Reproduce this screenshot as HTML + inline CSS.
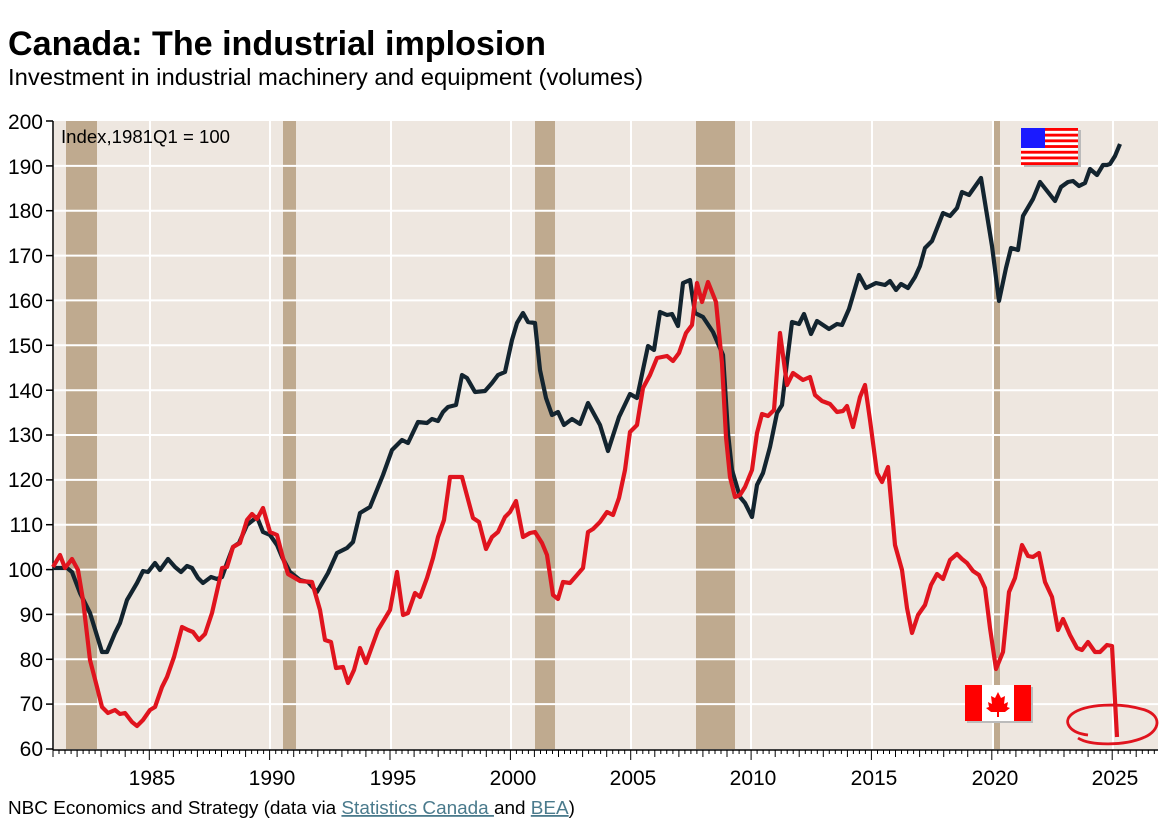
<!DOCTYPE html>
<html><head><meta charset="utf-8"><style>
body{margin:0;background:#fff;width:1162px;height:831px;overflow:hidden;font-family:"Liberation Sans",Arial,sans-serif}
</style></head><body>
<svg width="1162" height="831" viewBox="0 0 1162 831" xmlns="http://www.w3.org/2000/svg" font-family="Liberation Sans, Arial, sans-serif">
<text x="8" y="55" font-size="34" font-weight="bold" fill="#000" textLength="538" lengthAdjust="spacingAndGlyphs">Canada: The industrial implosion</text>
<text x="8" y="85" font-size="23.5" fill="#000" textLength="635" lengthAdjust="spacingAndGlyphs">Investment in industrial machinery and equipment (volumes)</text>
<rect x="54" y="121" width="1104" height="628" fill="#EEE7E0"/>
<g fill="#BFAA8F">
<rect x="66" y="121" width="31" height="628"/>
<rect x="283" y="121" width="13" height="628"/>
<rect x="535" y="121" width="20" height="628"/>
<rect x="696" y="121" width="39" height="628"/>
<rect x="993" y="121" width="7" height="628"/>
</g>
<g stroke="#fff" stroke-width="2">
<line x1="54" x2="1158" y1="165.9" y2="165.9"/><line x1="54" x2="1158" y1="210.7" y2="210.7"/>
<line x1="54" x2="1158" y1="255.6" y2="255.6"/><line x1="54" x2="1158" y1="300.4" y2="300.4"/>
<line x1="54" x2="1158" y1="345.3" y2="345.3"/><line x1="54" x2="1158" y1="390.2" y2="390.2"/>
<line x1="54" x2="1158" y1="435" y2="435"/><line x1="54" x2="1158" y1="479.9" y2="479.9"/>
<line x1="54" x2="1158" y1="524.7" y2="524.7"/><line x1="54" x2="1158" y1="569.6" y2="569.6"/>
<line x1="54" x2="1158" y1="614.4" y2="614.4"/><line x1="54" x2="1158" y1="659.3" y2="659.3"/>
<line x1="54" x2="1158" y1="704.1" y2="704.1"/>
<line x1="150" x2="150" y1="121" y2="749"/><line x1="270" x2="270" y1="121" y2="749"/>
<line x1="391" x2="391" y1="121" y2="749"/><line x1="511" x2="511" y1="121" y2="749"/>
<line x1="631" x2="631" y1="121" y2="749"/><line x1="751" x2="751" y1="121" y2="749"/>
<line x1="872" x2="872" y1="121" y2="749"/><line x1="993" x2="993" y1="121" y2="749"/>
<line x1="1113" x2="1113" y1="121" y2="749"/>
</g>
<g font-size="21" fill="#000" text-anchor="end">
<text x="43" y="129">200</text><text x="43" y="174">190</text><text x="43" y="218">180</text>
<text x="43" y="263">170</text><text x="43" y="308">160</text><text x="43" y="353">150</text>
<text x="43" y="398">140</text><text x="43" y="442">130</text><text x="43" y="487">120</text>
<text x="43" y="532">110</text><text x="43" y="577">100</text><text x="43" y="622">90</text>
<text x="43" y="667">80</text><text x="43" y="711">70</text><text x="43" y="756">60</text>
</g>
<g stroke="#000" stroke-width="1.5">
<line x1="53" x2="53" y1="121" y2="750"/>
<line x1="53" x2="1158" y1="750" y2="750"/>
<line x1="46" x2="53" y1="121" y2="121"/><line x1="46" x2="53" y1="165.9" y2="165.9"/><line x1="46" x2="53" y1="210.7" y2="210.7"/><line x1="46" x2="53" y1="255.6" y2="255.6"/><line x1="46" x2="53" y1="300.4" y2="300.4"/><line x1="46" x2="53" y1="345.3" y2="345.3"/><line x1="46" x2="53" y1="390.2" y2="390.2"/><line x1="46" x2="53" y1="435" y2="435"/><line x1="46" x2="53" y1="479.9" y2="479.9"/><line x1="46" x2="53" y1="524.7" y2="524.7"/><line x1="46" x2="53" y1="569.6" y2="569.6"/><line x1="46" x2="53" y1="614.4" y2="614.4"/><line x1="46" x2="53" y1="659.3" y2="659.3"/><line x1="46" x2="53" y1="704.1" y2="704.1"/><line x1="46" x2="53" y1="749" y2="749"/>
</g>
<g id="ticks" stroke="#000" stroke-width="1"></g>
<g font-size="21" fill="#000" text-anchor="middle">
<text x="152" y="785">1985</text><text x="272" y="785">1990</text><text x="393" y="785">1995</text>
<text x="513" y="785">2000</text><text x="633" y="785">2005</text><text x="753" y="785">2010</text>
<text x="874" y="785">2015</text><text x="995" y="785">2020</text><text x="1115" y="785">2025</text>
</g>
<text x="61" y="143" font-size="18" fill="#000" textLength="169" lengthAdjust="spacingAndGlyphs">Index,1981Q1 = 100</text>
<polyline fill="none" stroke="#13242F" stroke-width="4.2" stroke-linejoin="round" points="53,568 67,568 72,572 80,593 90,613 102,652 107,652 115,633 120,623 127,600 137,583 143,571 148,572 155,563 160,570 168,559 175,567 181,572 187,566 192,568 198,578 203,583 211,577 217,579 222,577 227,563 233,547 239,543 247,525 257,517 263,532 270,535 277,545 282,557 290,572 300,580 308,582 317,592 328,573 337,553 347,548 353,542 360,513 370,507 383,475 392,450 402,440 408,443 418,422 427,423 432,419 438,421 443,412 448,407 456,405 462,375 467,378 475,392 485,391 492,383 498,375 505,372 512,340 517,323 523,313 528,322 535,323 540,370 546,398 552,415 558,412 564,425 572,419 580,424 588,403 600,425 608,451 619,417 630,394 637,398 648,346 654,350 660,312 667,315 672,314 678,326 683,283 690,280 695,313 703,317 713,332 723,355 728,433 732,470 740,497 745,503 752,517 757,485 763,473 770,447 777,413 782,405 787,362 792,322 799,324 804,314 811,334 817,321 829,329 837,324 842,325 849,309 859,275 866,288 876,283 885,285 890,281 896,290 901,284 908,288 915,277 920,266 925,248 932,241 943,213 950,216 957,208 962,192 969,195 981,178 992,246 999,301 1006,268 1011,248 1018,250 1023,216 1033,199 1040,182 1055,201 1061,187 1068,182 1073,181 1079,186 1085,183 1090,169 1097,175 1103,165 1107,165 1110,164 1115,156 1120,144"/>
<polyline fill="none" stroke="#E0141E" stroke-width="4.2" stroke-linejoin="round" points="53,567 60,555 65,568 72,559 78,570 83,600 90,660 97,687 102,707 108,713 115,710 120,714 125,713 132,722 137,726 143,720 150,710 155,707 162,687 167,677 174,657 182,627 188,630 193,632 199,640 205,634 212,613 220,578 222,568 227,567 233,547 240,543 247,520 252,514 257,519 263,508 270,532 277,535 283,558 288,574 300,581 312,582 320,610 325,640 331,642 336,668 343,667 348,683 354,670 360,648 366,663 378,630 390,610 397,572 403,615 408,613 415,593 420,597 427,578 433,558 438,537 444,520 450,477 457,477 462,477 473,518 479,522 486,549 492,537 498,532 505,517 510,512 516,501 523,537 530,533 535,532 542,543 547,555 553,595 558,599 563,582 570,583 577,575 583,568 588,532 593,529 600,522 607,512 613,515 619,498 625,470 630,432 637,425 643,388 650,375 657,358 667,356 673,361 679,353 686,333 692,325 697,283 702,302 708,282 716,302 722,363 726,437 730,477 735,497 740,495 745,487 752,470 757,433 762,414 768,416 774,410 780,333 787,385 793,373 803,380 810,377 815,395 822,401 830,404 837,412 843,411 847,406 853,427 860,397 865,385 870,420 877,473 882,482 888,467 895,545 902,570 907,608 912,633 918,615 925,605 931,585 937,574 943,579 950,560 957,554 962,559 967,563 973,571 979,575 985,588 990,628 996,669 1003,652 1009,592 1015,578 1022,545 1028,556 1033,557 1039,553 1045,582 1052,597 1058,630 1063,619 1070,635 1077,648 1082,650 1088,642 1095,652 1100,652 1107,645 1112,646 1117,737"/>
<path d="M1088,735 C1070,733 1062,722 1072,714 C1085,704 1120,702 1145,710 C1162,716 1160,730 1145,737 C1125,746 1090,746 1078,738" fill="none" stroke="#E0141E" stroke-width="2.8"/>
<rect x="1024" y="130" width="57" height="37" fill="#bbb"/>
<g>
<rect x="1021" y="128" width="57" height="37" fill="#fff"/>
<rect x="1021" y="128" width="57" height="2.85" fill="#f00"/><rect x="1021" y="133.7" width="57" height="2.85" fill="#f00"/><rect x="1021" y="139.4" width="57" height="2.85" fill="#f00"/><rect x="1021" y="145.1" width="57" height="2.85" fill="#f00"/><rect x="1021" y="150.8" width="57" height="2.85" fill="#f00"/><rect x="1021" y="156.5" width="57" height="2.85" fill="#f00"/><rect x="1021" y="162.2" width="57" height="2.85" fill="#f00"/>
<rect x="1021" y="128" width="24" height="20" fill="#1a1aff"/>
</g>
<rect x="967" y="687" width="66" height="36" fill="#bbb"/>
<rect x="965" y="685" width="66" height="36" fill="#fff"/>
<rect x="965" y="685" width="17" height="36" fill="#f00"/><rect x="1014" y="685" width="17" height="36" fill="#f00"/>
<path d="M998,692 L1001,698 L1005,696 L1004,704 L1008,702 L1007,707 L1010,708 L1005,712 L999,712 L999,717 L997,717 L997,712 L991,712 L986,708 L989,707 L988,702 L992,704 L991,696 L995,698 Z" fill="#f00"/>
<text x="8" y="814" font-size="18" fill="#000" textLength="567" lengthAdjust="spacingAndGlyphs">NBC Economics and Strategy (data via <tspan fill="#4A7A8C" text-decoration="underline">Statistics Canada </tspan>and <tspan fill="#4A7A8C" text-decoration="underline">BEA</tspan>)</text>
</svg>
<script>
var g=document.getElementById('ticks'),s='';
for(var q=0;q<=183;q++){var x=53+q*6.018;if(x>1158)break;var yr=q%4==0;var yv=1981+q/4;var big=yr&&yv%5==0;var h=big?10:(yr?7:4);s+='<line x1="'+x.toFixed(1)+'" x2="'+x.toFixed(1)+'" y1="750" y2="'+(750+h)+'"/>';}
g.innerHTML=s;
</script>
</body></html>
